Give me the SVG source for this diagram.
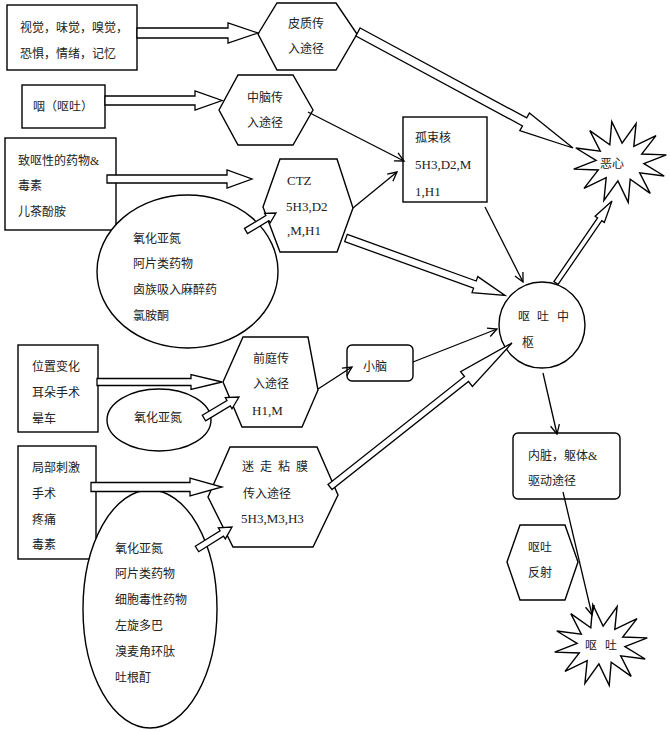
<svg xmlns="http://www.w3.org/2000/svg" width="670" height="731" viewBox="0 0 670 731">
<style>
  .shape { fill: #fff; stroke: #000; stroke-width: 1.4; }
  .t { font-family: "Liberation Serif", "Noto Sans CJK SC", serif; font-size: 12px; fill: #222; }
  .lt { font-family: "Liberation Serif", "Noto Sans CJK SC", serif; font-size: 13px; fill: #222; }
  .blk { fill: #fff; stroke: #000; stroke-width: 1.3; stroke-linejoin: miter; }
  .ln { fill: none; stroke: #000; stroke-width: 1.3; marker-end: url(#vhead); }
</style>
<defs>
  <marker id="vhead" markerUnits="userSpaceOnUse" markerWidth="14" markerHeight="14" refX="10" refY="5.5" orient="auto" viewBox="0 0 14 14">
    <path d="M1,1 L10,5.5 L1,10" fill="none" stroke="#000" stroke-width="1.3"/>
  </marker>
  <polygon id="star" points="-44.2,-14 -19.7,-10.9 -30.2,-31.4 -10.2,-17.2 -8.2,-40.4 2.1,-18.9 16.1,-38.5 13.8,-15.6 36,-26.4 21.7,-8 46.3,-7.1 23.9,1.7 44.2,14 19.7,10.9 30.2,31.4 10.2,17.2 8.2,40.4 -2.1,18.9 -16.1,38.5 -13.8,15.6 -36,26.4 -21.7,8 -46.3,7.1 -23.9,-1.7"/>
</defs>
<rect width="670" height="731" fill="#fff"/>

<g id="senses">
  <rect class="shape" x="7" y="5" width="130" height="65"/>
  <text class="t" x="20" y="31.5">视觉，味觉，嗅觉，</text>
  <text class="t" x="20" y="57.5">恐惧，情绪，记忆</text>
</g>
<g id="cortex">
  <polygon class="shape" points="258,34 277,3 336,3 357,34 336,70 277,70"/>
  <text class="t" x="288" y="27.5">皮质传</text>
  <text class="t" x="288" y="52.5">入途径</text>
</g>
<g id="pharynx">
  <rect class="shape" x="22" y="85" width="83" height="43"/>
  <text class="t" x="33" y="110.5">咽（呕吐）</text>
</g>
<g id="midbrain">
  <polygon class="shape" points="219,110 238,75 293,75 313,110 293,145 238,145"/>
  <text class="t" x="247" y="101.5">中脑传</text>
  <text class="t" x="247" y="126.5">入途径</text>
</g>
<g id="drugs">
  <rect class="shape" x="5" y="138" width="111" height="92"/>
  <text class="t" x="18" y="164.5">致呕性的药物&amp;</text>
  <text class="t" x="18" y="189.5">毒素</text>
  <text class="t" x="18" y="215.5">儿茶酚胺</text>
</g>
<g id="ctz">
  <polygon class="shape" points="263,207 280,159 337,159 353,208 337,252 280,252"/>
  <text class="lt" x="287" y="184.5">CTZ</text>
  <text class="lt" x="286" y="210.5">5H3,D2</text>
  <text class="lt" x="287" y="234.5">,M,H1</text>
</g>
<g id="nts">
  <rect class="shape" x="403" y="117" width="84" height="85"/>
  <text class="t" x="415" y="141.5">孤束核</text>
  <text class="lt" x="415" y="168.5">5H3,D2,M</text>
  <text class="lt" x="415" y="195.5">1,H1</text>
</g>
<g id="nausea">
  <use href="#star" class="shape" transform="translate(620,162)"/>
  <text class="t" x="600" y="168">恶心</text>
</g>
<g id="ellipse-ctz">
  <ellipse class="shape" cx="187.5" cy="271.5" rx="90.5" ry="76.5"/>
  <text class="t" x="133" y="242.5">氧化亚氮</text>
  <text class="t" x="133" y="267.5">阿片类药物</text>
  <text class="t" x="133" y="293.5">卤族吸入麻醉药</text>
  <text class="t" x="133" y="319.5">氯胺酮</text>
</g>
<g id="vomiting-center">
  <circle class="shape" cx="542" cy="325" r="43"/>
  <text class="t" y="320.5"><tspan x="518">呕</tspan><tspan x="537">吐</tspan><tspan x="557">中</tspan></text>
  <text class="t" x="522" y="346.5">枢</text>
</g>
<g id="position">
  <rect class="shape" x="18" y="345" width="80" height="87"/>
  <text class="t" x="32" y="370.5">位置变化</text>
  <text class="t" x="32" y="396.5">耳朵手术</text>
  <text class="t" x="32" y="422.5">晕车</text>
</g>
<g id="ellipse-vestibular">
  <ellipse class="shape" cx="159" cy="420" rx="52" ry="31"/>
  <text class="t" x="134" y="421.5">氧化亚氮</text>
</g>
<g id="vestibular">
  <polygon class="shape" points="223,382 243,337 308,337 318,390 302,427 242,427"/>
  <text class="t" x="253" y="362.5">前庭传</text>
  <text class="t" x="253" y="387.5">入途径</text>
  <text class="lt" x="252" y="414.5">H1,M</text>
</g>
<g id="cerebellum">
  <rect class="shape" x="347" y="345" width="66" height="36" rx="5"/>
  <text class="t" x="363" y="370.5">小脑</text>
</g>
<g id="local">
  <rect class="shape" x="18" y="446" width="78" height="113"/>
  <text class="t" x="32" y="471.5">局部刺激</text>
  <text class="t" x="32" y="497.5">手术</text>
  <text class="t" x="32" y="523.5">疼痛</text>
  <text class="t" x="32" y="548.5">毒素</text>
</g>
<g id="vagal">
  <polygon class="shape" points="208,497 230,447 317,447 338,495 313,547 233,547"/>
  <text class="t" y="470.5"><tspan x="242">迷</tspan><tspan x="260">走</tspan><tspan x="278">粘</tspan><tspan x="296">膜</tspan></text>
  <text class="t" x="243" y="497.5">传入途径</text>
  <text class="lt" x="241" y="522.5">5H3,M3,H3</text>
</g>
<g id="ellipse-vagal">
  <ellipse class="shape" cx="150" cy="609" rx="67" ry="119"/>
  <text class="t" x="115" y="552.5">氧化亚氮</text>
  <text class="t" x="115" y="578">阿片类药物</text>
  <text class="t" x="115" y="604">细胞毒性药物</text>
  <text class="t" x="115" y="629.5">左旋多巴</text>
  <text class="t" x="115" y="655.5">溴麦角环肽</text>
  <text class="t" x="115" y="681.5">吐根酊</text>
</g>
<g id="visceral">
  <rect class="shape" x="513" y="433" width="107" height="66" rx="5"/>
  <text class="t" x="528" y="459.5">内脏，躯体&amp;</text>
  <text class="t" x="528" y="484.5">驱动途径</text>
</g>
<g id="reflex">
  <polygon class="shape" points="507,562 520,525 565,525 578,562 565,600 520,600"/>
  <text class="t" x="528" y="551.5">呕吐</text>
  <text class="t" x="528" y="576.5">反射</text>
</g>
<g id="vomiting">
  <use href="#star" class="shape" transform="translate(601,645)"/>
  <text class="t" y="649.5"><tspan x="585">呕</tspan><tspan x="605">吐</tspan></text>
</g>

<g id="connectors">
  <polygon class="blk" points="137,28 228,28 228,23 258,33 228,43 228,38 137,38"/>
  <polygon class="blk" points="105,96 195,96 195,91 222,100.5 195,110 195,105 105,105"/>
  <polygon class="blk" points="107,175 227,175 227,170 252,179 227,188 227,183 107,183"/>
  <polygon class="blk" points="97,378.5 191,378.5 191,374.5 222,382 191,389.5 191,385.5 97,385.5"/>
  <polygon class="blk" points="91,482.5 190,482.5 190,478 222,487 190,496 190,491.5 91,491.5"/>
  <polygon class="blk" points="360.1,28 526.7,117.9 529.4,113.1 573,148 519.8,130.7 522.5,125.9 355.9,36"/>
  <polygon class="blk" points="553.9,281.6 597.6,217.9 595.1,216.2 612,201 604.3,222.4 601.8,220.7 558.1,284.4"/>
  <polygon class="blk" points="347.3,234.4 476.2,281 477.8,276.6 505,295.5 472,292.6 473.6,288.2 344.7,241.6"/>
  <polygon class="blk" points="328,484.5 464.5,376.5 460.6,371.6 512,343 472.4,386.4 468.5,381.5 332,489.5"/>
  <polygon class="blk" points="244.5,228.4 265.9,215.5 264.6,213.4 276,213 270.2,222.8 268.9,220.7 247.5,233.6"/>
  <polygon class="blk" points="202.3,415.3 227,400.5 225.3,397.6 239,397 232,408.8 230.3,406 205.6,420.8"/>
  <polygon class="blk" points="195.3,546.3 220.1,530.7 218.3,527.9 232,527 225.3,538.9 223.5,536.1 198.7,551.7"/>
  <line class="ln" x1="308" y1="112" x2="404" y2="161"/>
  <line class="ln" x1="353" y1="208" x2="397" y2="172"/>
  <line class="ln" x1="485" y1="207" x2="523" y2="282"/>
  <line class="ln" x1="318" y1="389" x2="352" y2="367"/>
  <line class="ln" x1="413" y1="362" x2="497" y2="329"/>
  <line class="ln" x1="543" y1="373" x2="557" y2="434"/>
  <line class="ln" x1="563" y1="492" x2="592" y2="615"/>
</g>
</svg>
